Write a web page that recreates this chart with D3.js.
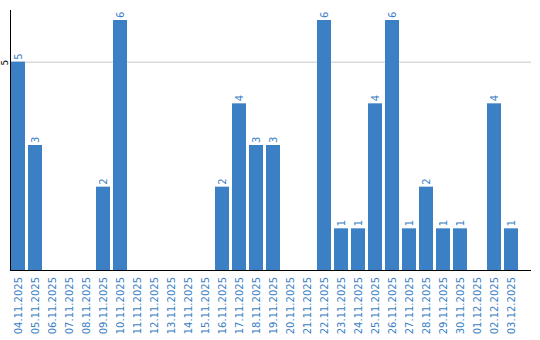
<!DOCTYPE html>
<html>
<head>
<meta charset="utf-8">
<script src="https://cdn.jsdelivr.net/npm/d3@7"></script>
<style>
  body { margin: 0; background: #fff; }
  svg { display: block; font-family: "DejaVu Sans", sans-serif; }
</style>
</head>
<body>
<svg id="chart" width="540" height="340"></svg>
<script>
var dates = ["04.11.2025","05.11.2025","06.11.2025","07.11.2025","08.11.2025","09.11.2025","10.11.2025",
  "11.11.2025","12.11.2025","13.11.2025","14.11.2025","15.11.2025","16.11.2025","17.11.2025","18.11.2025",
  "19.11.2025","20.11.2025","21.11.2025","22.11.2025","23.11.2025","24.11.2025","25.11.2025","26.11.2025",
  "27.11.2025","28.11.2025","29.11.2025","30.11.2025","01.12.2025","02.12.2025","03.12.2025"];
var counts = [5,3,0,0,0,2,6,0,0,0,0,0,2,4,3,3,0,0,6,1,1,4,6,1,2,1,1,0,4,1];
var yTicks = [5];

var svg = d3.select("#chart");
var blue = "#3b7fc4";

var x = d3.scaleBand()
    .domain(dates)
    .range([9.5, 519.5])
    .paddingInner(3 / 17)
    .paddingOuter(1.5 / 17);

var y = d3.scaleLinear()
    .domain([0, 6])
    .range([270, 20]);

var data = dates.map(function(d, i) { return {date: d, n: counts[i]}; });

// grid line
svg.append("g")
  .selectAll("line")
  .data(yTicks)
  .enter()
  .append("line")
    .attr("x1", 10).attr("x2", 531)
    .attr("y1", function(d) { return y(d) + 0.5; })
    .attr("y2", function(d) { return y(d) + 0.5; })
    .style("stroke", "#c8c8c8");

svg.append("g")
  .selectAll("text")
  .data(yTicks)
  .enter()
  .append("text")
    .attr("transform", function(d) { return "translate(8," + (y(d) + 1) + ") rotate(-90)"; })
    .attr("text-anchor", "middle")
    .style("font-size", "9px")
    .style("fill", "#000")
    .text(function(d) { return d; });

// bars
svg.append("g")
  .selectAll("rect")
  .data(data)
  .enter()
  .append("rect")
    .attr("x", function(d) { return x(d.date); })
    .attr("width", x.bandwidth())
    .attr("y", function(d) { return y(d.n); })
    .attr("height", function(d) { return y(0) - y(d.n); })
    .style("fill", blue);

// value labels
svg.append("g")
  .selectAll("text")
  .data(data.filter(function(d) { return d.n > 0; }))
  .enter()
  .append("text")
    .attr("transform", function(d) {
      return "translate(" + (x(d.date) + x.bandwidth() / 2 + 4) + "," + (y(d.n) - 2) + ") rotate(-90)";
    })
    .attr("text-anchor", "start")
    .style("font-size", "10px")
    .style("fill", blue)
    .text(function(d) { return d.n; });

// axes lines
svg.append("line")
  .attr("x1", 10.5).attr("x2", 10.5).attr("y1", 10).attr("y2", 270)
  .style("stroke", "#000");
svg.append("line")
  .attr("x1", 10).attr("x2", 531).attr("y1", 270.5).attr("y2", 270.5)
  .style("stroke", "#000");

// x labels
svg.append("g")
  .selectAll("text")
  .data(dates)
  .enter()
  .append("text")
    .attr("transform", function(d) {
      return "translate(" + (x(d) + x.bandwidth() / 2 + 4) + ",277) rotate(-90)";
    })
    .attr("text-anchor", "end")
    .style("font-size", "10px")
    .style("fill", blue)
    .text(function(d) { return d; });
</script>
</body>
</html>
